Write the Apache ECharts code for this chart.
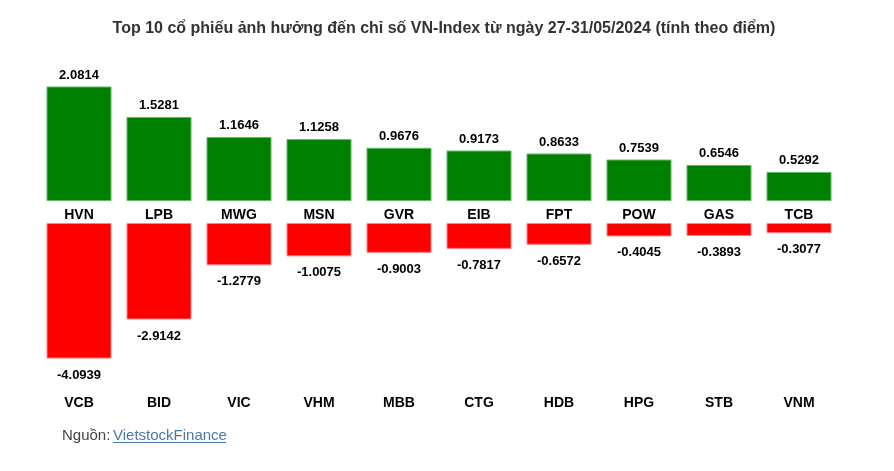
<!DOCTYPE html>
<html><head><meta charset="utf-8">
<script src="https://cdn.jsdelivr.net/npm/echarts@6/dist/echarts.min.js"></script>
<style>html,body{margin:0;padding:0;background:#fff}#c{width:894px;height:471px}</style>
</head><body><div id="c"></div>
<script>
var titleText = 'Top 10 cổ phiếu ảnh hưởng đến chỉ số VN-Index từ ngày 27-31/05/2024 (tính theo điểm)';
var posNames = ['HVN','LPB','MWG','MSN','GVR','EIB','FPT','POW','GAS','TCB'];
var posValues = [2.0814,1.5281,1.1646,1.1258,0.9676,0.9173,0.8633,0.7539,0.6546,0.5292];
var negNames = ['VCB','BID','VIC','VHM','MBB','CTG','HDB','HPG','STB','VNM'];
var negValues = [-4.0939,-2.9142,-1.2779,-1.0075,-0.9003,-0.7817,-0.6572,-0.4045,-0.3893,-0.3077];

var FONT = '"Liberation Sans", Arial, sans-serif';
var chart = echarts.init(document.getElementById('c'));
chart.setOption({
  animation: false,
  title: {text: titleText, left: 439, textAlign: 'center', top: 16,
    textStyle: {fontFamily: FONT, fontSize: 16, fontWeight: 'bold', color: '#333'}},
  grid: [
    {left: 39, width: 800, top: 80, height: 121},
    {left: 39, width: 800, top: 223, height: 149}
  ],
  xAxis: [
    {gridIndex: 0, type: 'category', data: posNames, axisLine: {show: false}, axisTick: {show: false},
     axisLabel: {margin: 7, fontFamily: FONT, fontSize: 14, fontWeight: 'bold', color: '#000'}},
    {gridIndex: 1, type: 'category', data: negNames, position: 'bottom', axisLine: {show: false}, axisTick: {show: false},
     axisLabel: {margin: 24, fontFamily: FONT, fontSize: 14, fontWeight: 'bold', color: '#000'}}
  ],
  yAxis: [
    {gridIndex: 0, type: 'value', min: 0, max: 2.2, show: false, splitLine: {show: false}},
    {gridIndex: 1, type: 'value', min: -4.5, max: 0, show: false, splitLine: {show: false}}
  ],
  series: [
    {type: 'bar', xAxisIndex: 0, yAxisIndex: 0, data: posValues, barWidth: 65,
     itemStyle: {color: '#008000', borderColor: '#5fb85f', borderWidth: 1},
     label: {show: true, position: 'top', distance: 5, fontFamily: FONT, fontSize: 13, fontWeight: 'bold', color: '#000',
       formatter: function(p){return p.value.toFixed(4);}}},
    {type: 'bar', xAxisIndex: 1, yAxisIndex: 1, data: negValues, barWidth: 65,
     itemStyle: {color: '#ff0000', borderColor: '#ff8080', borderWidth: 1},
     label: {show: true, position: 'bottom', distance: 10, fontFamily: FONT, fontSize: 13, fontWeight: 'bold', color: '#000',
       formatter: function(p){return p.value.toFixed(4);}}}
  ],
  graphic: [
    {type: 'text', left: 62, top: 428, style: {text: 'Nguồn:', font: '15px ' + FONT, fill: '#444'}},
    {type: 'text', left: 113, top: 428, style: {text: 'VietstockFinance', font: '15px ' + FONT, fill: '#4a78a8'}},
    {type: 'line', shape: {x1: 113, y1: 442.5, x2: 226, y2: 442.5}, style: {stroke: '#4a78a8', lineWidth: 1}}
  ]
});
</script></body></html>
